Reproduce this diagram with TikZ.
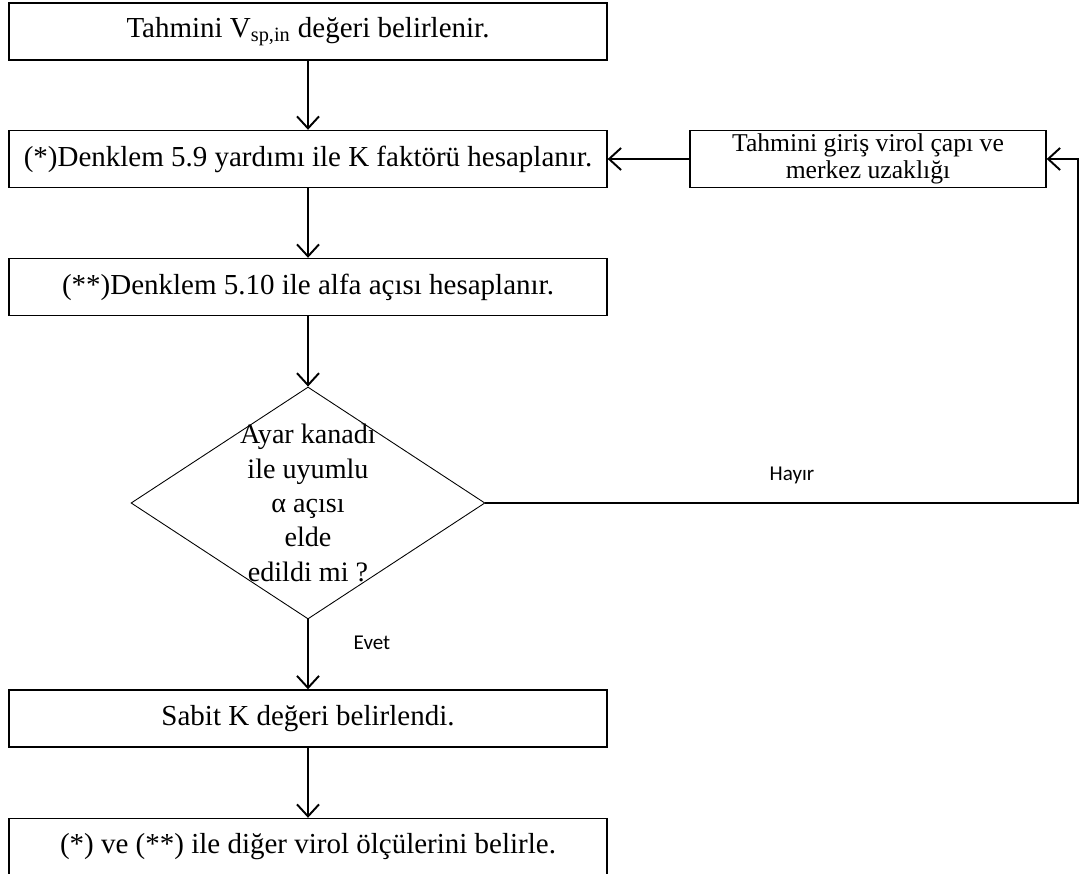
\documentclass[tikz,border=0pt]{standalone}
\usepackage{fontspec}
\setmainfont{Liberation Serif}
\newfontfamily\labelfont{Carlito}
\usetikzlibrary{positioning,shapes.geometric,arrows.meta}

\tikzset{
  stepbox/.style={draw, line width=0.8pt, minimum width=11.96cm, minimum height=1.14cm,
    inner sep=0pt, font=\fontsize{16.5}{19}\selectfont},
  sidebox/.style={draw, line width=0.8pt, minimum width=7.12cm, minimum height=1.14cm,
    inner sep=0pt, align=center, font=\fontsize{14.6}{15}\selectfont},
  decision/.style={draw, diamond, minimum width=7.08cm, minimum height=4.64cm,
    inner sep=0pt, line width=0.5pt},
  flow/.style={line width=1.1pt, -{Straight Barb[length=2.4mm,width=4.4mm]}},
  answer/.style={font=\labelfont\fontsize{12}{14}\selectfont},
}

\begin{document}
\begin{tikzpicture}[x=0.02cm, y=-0.02cm]

    \useasboundingbox (0,0) rectangle (1088,874);

    % main column
    \node[stepbox] (est) at (308,31.5) {Tahmini V\textsubscript{sp,in} değeri belirlenir.};
    \node[stepbox] (kfac) at (308,159) {(*)Denklem 5.9 yardımı ile K faktörü hesaplanır.};
    \node[stepbox] (alfa) at (308,287) {(**)Denklem 5.10 ile alfa açısı hesaplanır.};

    \node[decision] (check) at (308,503) {};
    \node[align=center, font=\fontsize{16}{19.6}\selectfont] (checktext) at (check)
    {Ayar kanadı \\
      ile uyumlu \\
      α açısı \\
      elde \\
      edildi mi ?};

    \node[stepbox] (kfix) at (308,718.5) {Sabit K değeri belirlendi.};
    \node[stepbox] (rest) at (308,847) {(*) ve (**) ile diğer virol ölçülerini belirle.};

    % side branch
    \node[sidebox] (guess) at (868,159)
    {Tahmini giriş virol çapı ve \\
      merkez uzaklığı};
    \coordinate (turn) at (1078,159);

    \draw[flow] (est) -- (kfac);
    \draw[flow] (kfac) -- (alfa);
    \draw[flow] (alfa) -- (check);
    \draw[flow] (check) -- (kfix);
    \draw[flow] (kfix) -- (rest);

    \draw[flow] (check.east) -| (turn) -- (guess.east);
    \draw[flow] (guess) -- (kfac);

    \node[answer] (no) at (792,475) {Hayır};
    \node[answer] (yes) at (372,643) {Evet};

  \end{tikzpicture}
\end{document}
